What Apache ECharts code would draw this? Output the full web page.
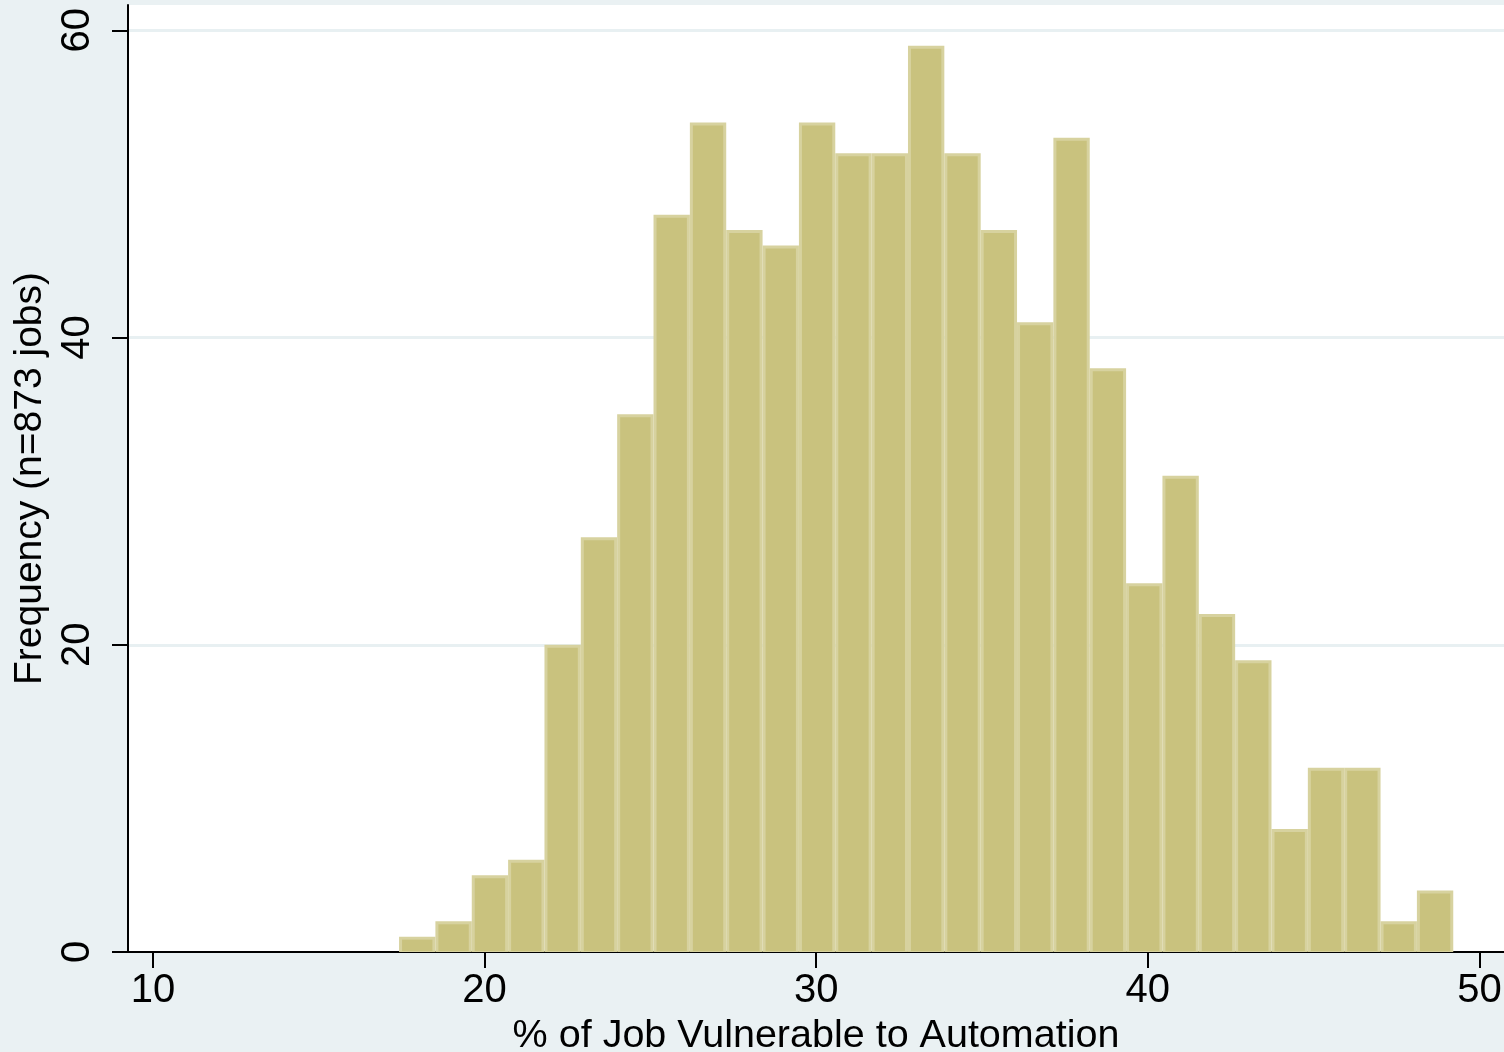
<!DOCTYPE html>
<html>
<head>
<meta charset="utf-8">
<script src="https://cdn.jsdelivr.net/npm/echarts@6/dist/echarts.min.js"></script>
<style>
  html, body { margin: 0; padding: 0; background: #eaf1f3; }
  #chart { width: 1504px; height: 1052px; }
</style>
</head>
<body>
<div id="chart"></div>
<script>
// Histogram of automation vulnerability across 873 jobs (29 equal-width bins)
const binStart = 17.42;   // left edge of the first bin (% of job)
const binWidth = 1.0962;  // width of every bin (% of job)
const counts = [1, 2, 5, 6, 20, 27, 35, 48, 54, 47, 46, 54, 52, 52, 59, 52, 47, 41, 53, 38, 24, 31, 22, 19, 8, 12, 12, 2, 4];
const xTicks = [10, 20, 30, 40, 50];
const yTicks = [0, 20, 40, 60];

const xTitle = '% of Job Vulnerable to Automation';
const yTitle = 'Frequency (n=873 jobs)';

const bins = counts.map((c, i) => [binStart + i * binWidth, binStart + (i + 1) * binWidth, c]);

const FONT = '"Liberation Sans", Arial, sans-serif';
const chart = echarts.init(document.getElementById('chart'), null, { renderer: 'canvas' });

chart.setOption({
  backgroundColor: '#eaf1f3',
  animation: false,
  grid: {
    left: 128, right: 0, top: 5, bottom: 100,
    outerBoundsMode: 'none',
    containLabel: false,
    show: true, backgroundColor: '#ffffff', borderWidth: 0
  },
  xAxis: {
    type: 'value',
    min: 9.246, max: 50.74,
    name: xTitle,
    nameLocation: 'middle',
    nameGap: 58,
    nameTextStyle: { fontFamily: FONT, fontSize: 39.5, color: '#000' },
    axisLine: { show: true, onZero: false, lineStyle: { color: '#000', width: 2 } },
    axisTick: { show: true, customValues: xTicks, length: 16, lineStyle: { color: '#000', width: 2 } },
    axisLabel: { customValues: xTicks, margin: 19, fontFamily: FONT, fontSize: 40, color: '#000' },
    splitLine: { show: false }
  },
  yAxis: {
    type: 'value',
    min: 0, max: 61.65,
    name: yTitle,
    nameLocation: 'middle',
    nameGap: 73,
    nameTextStyle: { fontFamily: FONT, fontSize: 39, color: '#000' },
    axisLine: { show: true, lineStyle: { color: '#000', width: 2 } },
    axisTick: { show: true, customValues: yTicks, length: 16, lineStyle: { color: '#000', width: 2 } },
    axisLabel: { customValues: yTicks, rotate: 90, margin: 30, fontFamily: FONT, fontSize: 40, color: '#000' },
    interval: 20,
    splitLine: { show: true, lineStyle: { color: '#e8f0f2', width: 3 } }
  },
  series: [{
    type: 'custom',
    data: bins,
    encode: { x: [0, 1], y: 2 },
    renderItem: function (params, api) {
      const p0 = api.coord([api.value(0), 0]);
      const p1 = api.coord([api.value(1), api.value(2)]);
      const x = p0[0], w = p1[0] - p0[0];
      const y = p1[1], h = p0[1] - p1[1];
      const band = 3;
      return {
        type: 'group',
        children: [
          { type: 'rect', shape: { x: x, y: y, width: w, height: h }, style: { fill: '#d7d29f' } },
          { type: 'rect', shape: { x: x + band, y: y + band, width: Math.max(0, w - 2 * band), height: Math.max(0, h - band - 1) }, style: { fill: '#c9c27e' } }
        ]
      };
    }
  }]
});
</script>
</body>
</html>
